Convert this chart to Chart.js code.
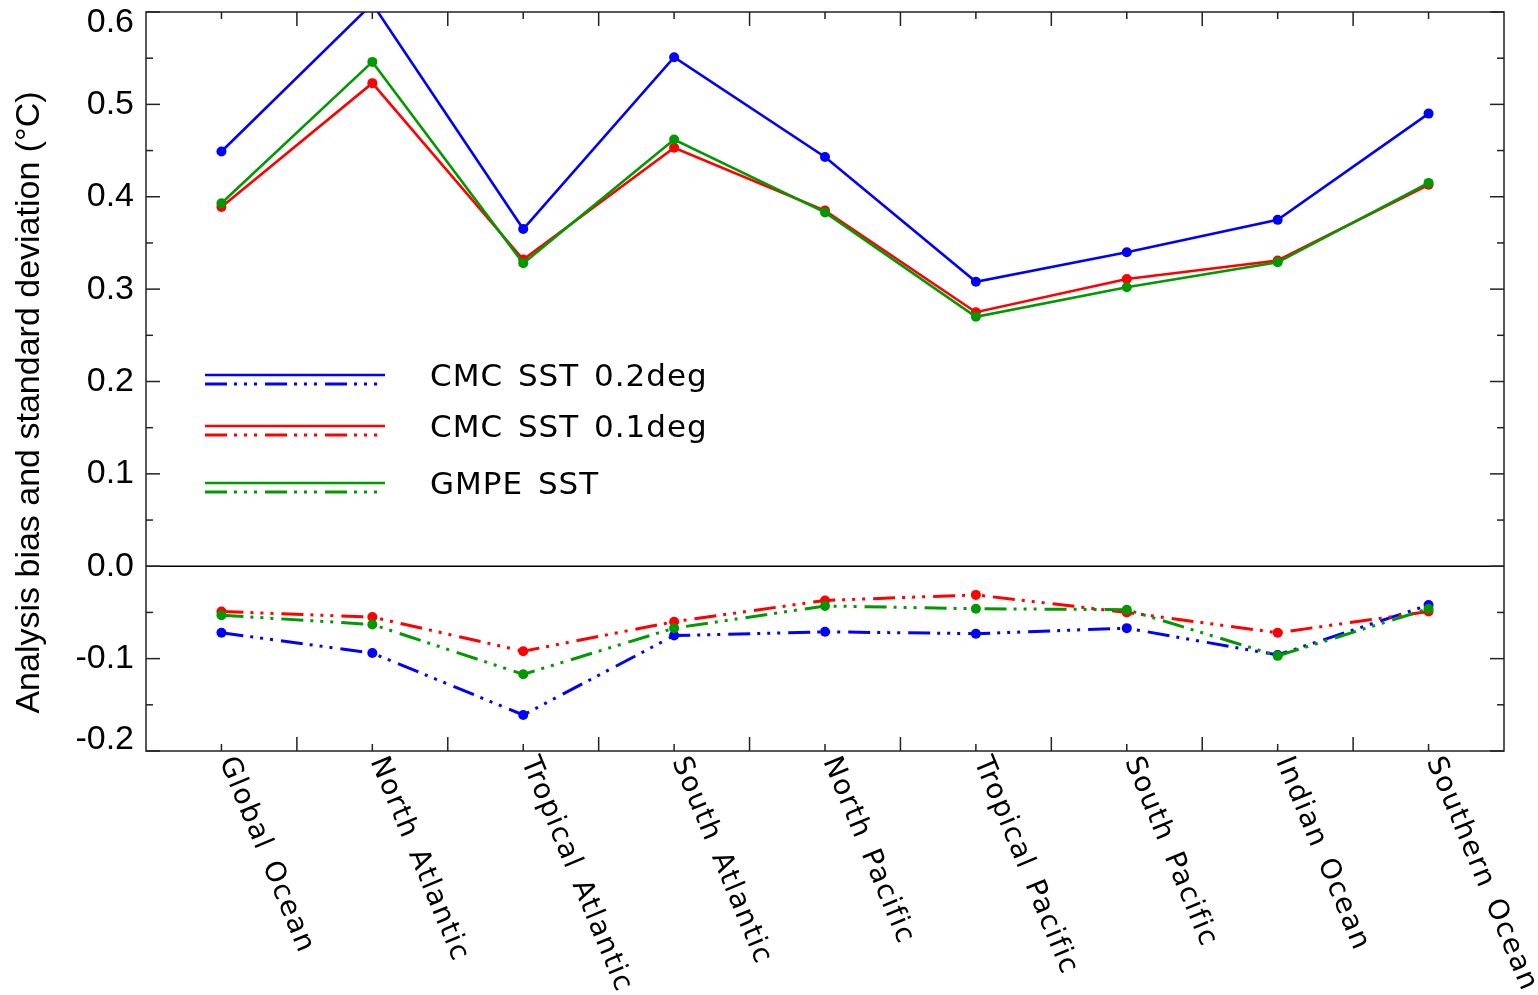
<!DOCTYPE html>
<html>
<head>
<meta charset="utf-8">
<script src="https://cdn.jsdelivr.net/npm/chart.js@4.4.0/dist/chart.umd.min.js"></script>
<style>
html, body { margin: 0; padding: 0; background: #fff; }
#wrap { width: 1538px; height: 995px; position: relative; }
</style>
</head>
<body>
<div id="wrap"><canvas id="sstChart"></canvas></div>
<script>
const regions = ['Global Ocean', 'North Atlantic', 'Tropical Atlantic', 'South Atlantic', 'North Pacific',
    'Tropical Pacific', 'South Pacific', 'Indian Ocean', 'Southern Ocean'];
const seriesNames = ['CMC SST 0.2deg', 'CMC SST 0.1deg', 'GMPE SST'];
// standard deviation (solid lines)
const std02 = [0.449, 0.609, 0.365, 0.551, 0.443, 0.308, 0.340, 0.375, 0.490];
const std01 = [0.389, 0.523, 0.332, 0.453, 0.385, 0.275, 0.311, 0.331, 0.413];
const stdGmpe = [0.393, 0.546, 0.328, 0.462, 0.383, 0.270, 0.302, 0.329, 0.415];
// bias (dash-dot-dot-dot lines)
const bias02 = [-0.072, -0.094, -0.161, -0.075, -0.071, -0.073, -0.067, -0.096, -0.042];
const bias01 = [-0.049, -0.055, -0.092, -0.060, -0.037, -0.031, -0.050, -0.072, -0.049];
const biasGmpe = [-0.053, -0.063, -0.117, -0.067, -0.043, -0.046, -0.047, -0.097, -0.046];
const yTicks = [-0.2, -0.1, 0.0, 0.1, 0.2, 0.3, 0.4, 0.5, 0.6];
const yTitle = 'Analysis bias and standard deviation (\u00B0C)';

const colors = ['#0000ff', '#ff0000', '#009a00'];
const dashDot3 = [22, 7, 3, 7, 3, 7, 3, 8];

function makeSet(data, i, dashed) {
    return {
        label: seriesNames[i] + (dashed ? ' bias' : ' std'),
        data: data,
        borderColor: colors[i],
        backgroundColor: colors[i],
        borderWidth: dashed ? 3 : 2.6,
        borderDash: dashed ? dashDot3 : [],
        pointRadius: 5,
        pointBorderWidth: 0,
        pointBackgroundColor: colors[i],
        tension: 0,
        clip: 0,
        order: 3 - i
    };
}

const framePlugin = {
    id: 'frame',
    beforeDatasetsDraw(chart) {
        const { ctx, chartArea: a, scales: { y } } = chart;
        ctx.save();
        ctx.strokeStyle = '#000';
        ctx.lineWidth = 1.5;
        const y0 = y.getPixelForValue(0);
        ctx.beginPath();
        ctx.moveTo(a.left, y0);
        ctx.lineTo(a.right, y0);
        ctx.stroke();
        ctx.restore();
    },
    afterDraw(chart) {
        const { ctx, chartArea: a, scales: { x, y } } = chart;
        ctx.save();
        ctx.strokeStyle = '#222';
        ctx.lineWidth = 1.5;
        ctx.strokeRect(a.left, a.top, a.right - a.left, a.bottom - a.top);

        // y ticks, major + minor, both sides, pointing in
        const tickLine = (x1, y1, x2, y2) => { ctx.beginPath(); ctx.moveTo(x1, y1); ctx.lineTo(x2, y2); ctx.stroke(); };
        yTicks.forEach((v, k) => {
            const py = y.getPixelForValue(v);
            tickLine(a.left, py, a.left + 14, py);
            tickLine(a.right, py, a.right - 14, py);
            if (k < yTicks.length - 1) {
                const pm = y.getPixelForValue((v + yTicks[k + 1]) / 2);
                tickLine(a.left, pm, a.left + 7, pm);
                tickLine(a.right, pm, a.right - 7, pm);
            }
        });
        // x ticks: short at categories, long at boundaries
        regions.forEach((r, i) => {
            const px = x.getPixelForValue(i);
            tickLine(px, a.bottom, px, a.bottom - 7);
            tickLine(px, a.top, px, a.top + 7);
            if (i < regions.length - 1) {
                const pb = (px + x.getPixelForValue(i + 1)) / 2;
                tickLine(pb, a.bottom, pb, a.bottom - 14);
                tickLine(pb, a.top, pb, a.top + 14);
            }
        });

        // y tick labels
        ctx.fillStyle = '#000';
        ctx.font = '34px "Liberation Sans", Arial, sans-serif';
        ctx.textAlign = 'right';
        ctx.textBaseline = 'middle';
        yTicks.forEach(v => {
            let py = y.getPixelForValue(v);
            py = Math.min(Math.max(py, a.top + 11), a.bottom - 11);
            ctx.fillText(v.toFixed(1), a.left - 12, py);
        });

        // y title
        ctx.save();
        ctx.translate(30, (a.top + a.bottom) / 2 + 21);
        ctx.rotate(-Math.PI / 2);
        ctx.textAlign = 'center';
        ctx.font = '34px "Liberation Sans", Arial, sans-serif';
        ctx.fillText(yTitle, 0, 0);
        ctx.restore();

        // x category labels, rotated down-right
        ctx.font = '28px "DejaVu Sans", sans-serif';
        ctx.letterSpacing = '1.5px';
        ctx.wordSpacing = '4px';
        ctx.textAlign = 'left';
        ctx.textBaseline = 'alphabetic';
        regions.forEach((r, i) => {
            const px = x.getPixelForValue(i);
            ctx.save();
            ctx.translate(px - 2, a.bottom + 10);
            ctx.rotate(67.5 * Math.PI / 180);
            ctx.fillText(r, 0, 0);
            ctx.restore();
        });

        // legend
        const lx = a.left + 59, lw = 180;
        const rows = [375, 426, 483];
        ctx.font = '31px "DejaVu Sans", sans-serif';
        ctx.letterSpacing = '1px';
        ctx.wordSpacing = '4px';
        ctx.textBaseline = 'middle';
        seriesNames.forEach((name, i) => {
            const ry = rows[i];
            ctx.strokeStyle = colors[i];
            ctx.lineWidth = 2.6;
            ctx.setLineDash([]);
            tickLine(lx, ry, lx + lw, ry);
            ctx.lineWidth = 3;
            ctx.setLineDash(dashDot3);
            tickLine(lx, ry + 9, lx + lw, ry + 9);
            ctx.setLineDash([]);
            ctx.fillStyle = '#000';
            ctx.fillText(name, lx + 225, ry + 3);
        });
        ctx.restore();
    }
};

new Chart(document.getElementById('sstChart'), {
    type: 'line',
    data: {
        labels: regions,
        datasets: [
            makeSet(std02, 0, false), makeSet(std01, 1, false), makeSet(stdGmpe, 2, false),
            makeSet(bias02, 0, true), makeSet(bias01, 1, true), makeSet(biasGmpe, 2, true)
        ]
    },
    options: {
        responsive: true,
        maintainAspectRatio: false,
        animation: false,
        layout: { padding: { top: 12, right: 34, left: 0, bottom: 0 } },
        plugins: { legend: { display: false }, tooltip: { enabled: false } },
        scales: {
            x: {
                offset: true,
                grid: { display: false },
                border: { display: false },
                ticks: { display: false },
                afterFit(s) { s.height = 244; }
            },
            y: {
                min: -0.2,
                max: 0.6,
                grid: { display: false },
                border: { display: false },
                ticks: { display: false },
                afterFit(s) { s.width = 146; }
            }
        }
    },
    plugins: [framePlugin]
});
</script>
</body>
</html>
